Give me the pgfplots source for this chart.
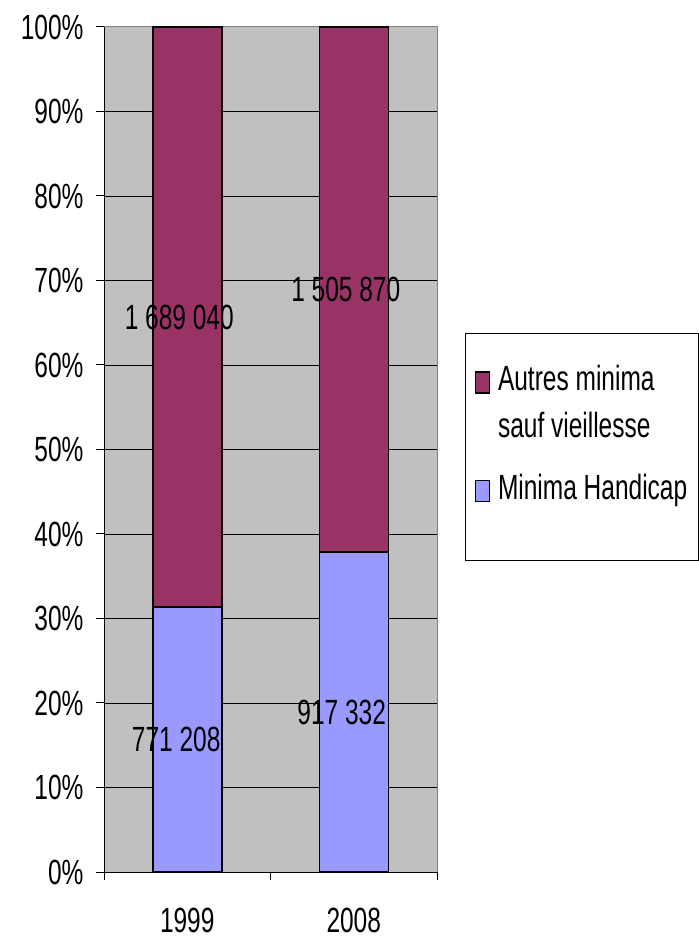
\documentclass[border=0pt]{standalone}
\usepackage{pgfplots}
\pgfplotsset{compat=1.18}
\usepackage{fontspec}
\setmainfont{Liberation Sans}[FakeStretch=0.70]
\definecolor{autres}{HTML}{993366}
\definecolor{handi}{HTML}{9999FF}
\definecolor{bggray}{HTML}{C0C0C0}
\newcommand{\bigfont}{\fontsize{35}{47}\selectfont}
\pgfplotsset{
  legsq/.style={legend image code/.code={\draw[##1, draw=black, line width=1.5pt] (0pt,-2pt) rectangle (14pt,19pt);}},
  legsqup/.style={legend image code/.code={\draw[##1, draw=black, line width=1.5pt] (0pt,45pt) rectangle (14pt,66pt);}}
}
\begin{document}
\begin{tikzpicture}
\useasboundingbox (0,0) rectangle (698pt,941pt);
\begin{axis}[
  at={(104pt,69pt)}, anchor=south west,
  scale only axis, width=333pt, height=845pt,
  xmin=-0.5, xmax=1.5, ymin=0, ymax=100,
  ybar stacked, bar width=69pt,
  axis background/.style={fill=bggray, draw=gray, line width=1pt},
  axis x line*=bottom, axis y line*=left,
  axis line style={-, black, line width=1pt},
  xtick={-0.5,0.5,1.5}, xticklabels={1999,2008}, x tick label as interval,
  ytick={0,10,20,30,40,50,60,70,80,90},
  yticklabels={0\%,10\%,20\%,30\%,40\%,50\%,60\%,70\%,80\%,90\%},
  extra y ticks={100}, extra y tick labels={100\%},
  extra y tick style={grid=none},
  ymajorgrids, grid style={black, line width=0.8pt},
  tick align=outside, major tick length=8pt,
  tick style={black, line width=1pt},
  tick label style={font=\bigfont},
  xticklabel style={yshift=-25pt},
  yticklabel style={xshift=-9pt},
  legend style={at={(1.0841,0.6379)}, anchor=north west, draw=black, line width=1pt,
    fill=white, font=\bigfont, cells={anchor=base west, align=left, inner xsep=3pt},
    inner xsep=9pt, inner ysep=30pt, row sep=22pt, column sep=6pt},
]
\addplot+[forget plot, fill=handi, draw=black, line width=1.5pt] coordinates {(0,31.35) (1,37.86)};
\addplot+[forget plot, fill=autres, draw=black, line width=1.5pt] coordinates {(0,68.65) (1,62.14)};
\addlegendimage{legsqup, fill=autres}
\addlegendentry{Autres minima\\sauf vieillesse}
\addlegendimage{legsq, fill=handi}
\addlegendentry{\raisebox{0pt}[34pt]{Minima Handicap}}
\addlegendimage{empty legend}
\addlegendentry{}
\coordinate (la) at (axis cs:0,65.68);
\coordinate (lb) at (axis cs:1,68.93);
\coordinate (lc) at (axis cs:0,15.68);
\coordinate (ld) at (axis cs:1,18.93);
\end{axis}
\node[font=\bigfont, xshift=-8pt] at (la) {1 689 040};
\node[font=\bigfont, xshift=-8pt] at (lb) {1 505 870};
\node[font=\bigfont, xshift=-11pt] at (lc) {771 208};
\node[font=\bigfont, xshift=-12pt] at (ld) {917 332};
\end{tikzpicture}
\end{document}
